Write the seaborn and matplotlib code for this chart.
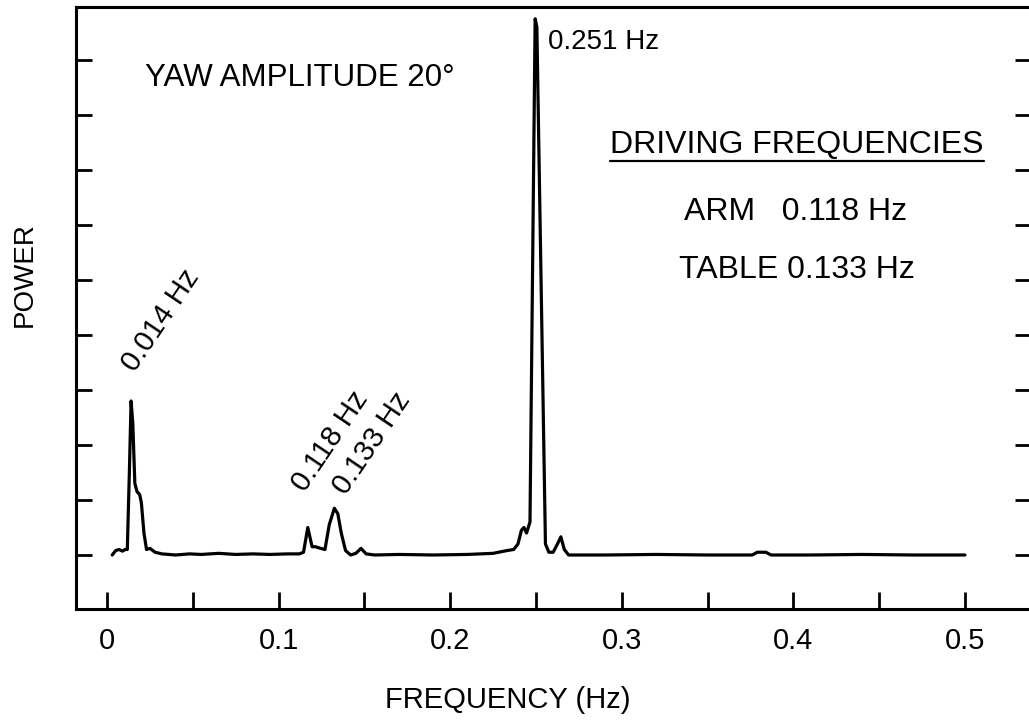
import numpy as np
import pandas as pd
import matplotlib
matplotlib.use("Agg")
import matplotlib.pyplot as plt
from matplotlib.ticker import MultipleLocator, FixedLocator
import seaborn as sns

# ---- data ----
freq = [0.003, 0.005, 0.007, 0.009, 0.0105, 0.0118, 0.0130, 0.0140, 0.0150,
        0.0162, 0.0175, 0.0190, 0.0200, 0.0215, 0.0230, 0.0250, 0.028, 0.032,
        0.040, 0.048, 0.055, 0.065, 0.075, 0.085, 0.095, 0.105, 0.112, 0.1145,
        0.1170, 0.1195, 0.1215, 0.1245, 0.1270, 0.1295, 0.1325, 0.1345, 0.1365,
        0.1390, 0.1420, 0.1450, 0.1480, 0.1510, 0.1560, 0.170, 0.190, 0.210,
        0.225, 0.233, 0.237, 0.2395, 0.2415, 0.2430, 0.2445, 0.2465, 0.2495,
        0.2505, 0.2555, 0.2575, 0.2600, 0.2625, 0.2645, 0.2665, 0.2690, 0.290,
        0.320, 0.350, 0.376, 0.379, 0.384, 0.387, 0.410, 0.440, 0.470, 0.500]
power = [0.00, 0.08, 0.10, 0.07, 0.10, 0.10, 1.50, 2.80, 2.40,
         1.30, 1.15, 1.10, 0.95, 0.40, 0.10, 0.12, 0.05, 0.02,
         0.00, 0.02, 0.01, 0.03, 0.01, 0.02, 0.01, 0.02, 0.02, 0.05,
         0.50, 0.15, 0.15, 0.12, 0.10, 0.55, 0.85, 0.75, 0.40,
         0.08, 0.00, 0.03, 0.12, 0.02, 0.00, 0.01, 0.00, 0.01,
         0.03, 0.08, 0.10, 0.20, 0.45, 0.50, 0.40, 0.60, 9.75,
         9.60, 0.20, 0.05, 0.05, 0.20, 0.33, 0.10, 0.00, 0.00,
         0.01, 0.00, 0.00, 0.05, 0.05, 0.00, 0.00, 0.01, 0.00, 0.00]

x_tick_labels = ["0", "0.1", "0.2", "0.3", "0.4", "0.5"]
x_tick_values = [0.0, 0.1, 0.2, 0.3, 0.4, 0.5]
y_tick_values = [0, 1, 2, 3, 4, 5, 6, 7, 8, 9]

df = pd.DataFrame({"freq": freq, "power": power})

sns.set_theme(style="ticks")
plt.rcParams["font.family"] = ["Liberation Sans", "DejaVu Sans"]
plt.rcParams["text.color"] = "black"
plt.rcParams["axes.labelcolor"] = "black"
plt.rcParams["xtick.color"] = "black"
plt.rcParams["ytick.color"] = "black"

fig = plt.figure(figsize=(10.29, 7.21), dpi=100)
ax = fig.add_axes([76 / 1029, 1 - 609 / 721, (1031 - 76) / 1029, (609 - 7) / 721])

sns.lineplot(data=df, x="freq", y="power", ax=ax, color="black", linewidth=2.3,
             estimator=None, sort=False)

ax.set_xlim(-0.0181, 0.5385)
ax.set_ylim(-0.982, 9.964)

for s in ["left", "bottom", "top", "right"]:
    ax.spines[s].set_visible(True)
    ax.spines[s].set_linewidth(2.2)
    ax.spines[s].set_color("black")

ax.xaxis.set_major_locator(FixedLocator(x_tick_values))
ax.set_xticklabels(x_tick_labels)
ax.xaxis.set_minor_locator(MultipleLocator(0.05))
ax.yaxis.set_major_locator(FixedLocator(y_tick_values))
ax.set_yticklabels([])
ax.tick_params(axis="x", which="both", direction="in", length=12, width=2.0,
               pad=13, labelsize=21, colors="black", top=False)
ax.tick_params(axis="y", which="both", direction="in", length=11.5, width=2.0,
               left=True, right=True, labelleft=False)

ax.set_xlabel("FREQUENCY (Hz)", fontsize=21, color="black")
ax.xaxis.set_label_coords(0.452, -0.128)
ax.set_ylabel("POWER", fontsize=20, color="black")
ax.yaxis.set_label_coords(-0.040, 0.555)

ax.text(0.022, 8.67, "YAW AMPLITUDE 20°", ha="left", va="center",
        color="black", fontsize=22.5)
ax.text(0.257, 9.33, "0.251 Hz", ha="left", va="center",
        color="black", fontsize=20)
blk_kw = dict(ha="center", va="center", color="black", fontsize=23)
head = ax.text(0.402, 7.45, "DRIVING FREQUENCIES", **blk_kw)
ax.text(0.401, 6.24, "ARM   0.118 Hz", **blk_kw)
ax.text(0.402, 5.18, "TABLE 0.133 Hz", **blk_kw)

rot_kw = dict(rotation=56, rotation_mode="anchor", ha="center", va="center",
              color="black", fontsize=21)
ax.text(0.0315, 4.27, "0.014 Hz", **rot_kw)
ax.text(0.130, 2.07, "0.118 Hz", **rot_kw)
ax.text(0.1544, 2.04, "0.133 Hz", **rot_kw)

# underline the heading
fig.canvas.draw()
bb = head.get_window_extent()
inv = ax.transData.inverted()
(ux0, uy0), (ux1, _) = inv.transform([[bb.x0, bb.y0 - 1], [bb.x1, bb.y0 - 1]])
ax.plot([ux0, ux1], [uy0, uy0], color="black", linewidth=1.6)

fig.savefig("out.png", dpi=100)
